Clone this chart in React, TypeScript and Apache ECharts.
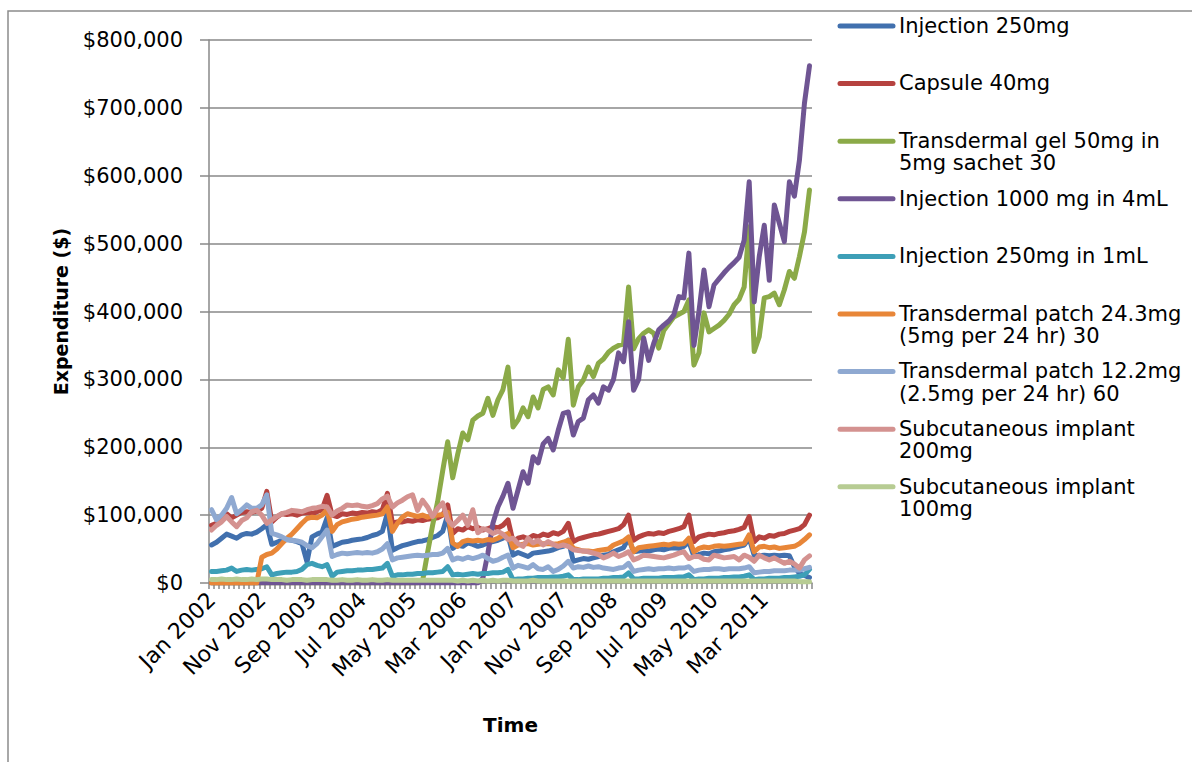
import React, { useEffect, useRef } from "react";
import * as echarts from "echarts";

// ---------- data (values in thousands of dollars) ----------
const UNIT = 1000;
const MONTHS = ["Jan", "Feb", "Mar", "Apr", "May", "Jun", "Jul", "Aug", "Sep", "Oct", "Nov", "Dec"];
const YEARS = [2002, 2003, 2004, 2005, 2006, 2007, 2008, 2009, 2010, 2011];
const categories: string[] = YEARS.flatMap((y) => MONTHS.map((m) => `${m} ${y}`));

const Y_TICKS = [0, 100000, 200000, 300000, 400000, 500000, 600000, 700000, 800000];

const SERIES_NAMES = [
  "Injection 250mg",
  "Capsule 40mg",
  "Transdermal gel 50mg in 5mg sachet 30",
  "Injection 1000 mg in 4mL",
  "Injection 250mg in 1mL",
  "Transdermal patch 24.3mg (5mg per 24 hr) 30",
  "Transdermal patch 12.2mg (2.5mg per 24 hr) 60",
  "Subcutaneous implant 200mg",
  "Subcutaneous implant 100mg",
];

const LEGEND_LABELS = [
  "Injection 250mg",
  "Capsule 40mg",
  "Transdermal gel 50mg in\n5mg sachet 30",
  "Injection 1000 mg in 4mL",
  "Injection 250mg in 1mL",
  "Transdermal patch 24.3mg\n(5mg per 24 hr) 30",
  "Transdermal patch 12.2mg\n(2.5mg per 24 hr) 60",
  "Subcutaneous implant\n200mg",
  "Subcutaneous implant\n100mg",
];

const COLORS = ["#4170AE", "#B6423F", "#8BAA48", "#6F5593", "#3D9FB7", "#E88638", "#8FA9D1", "#D49290", "#B7CC93"];

const injection250 = [
  56, 60, 66, 72, 69, 66, 71, 73, 72, 75, 80, 86,
  57, 60, 63, 64, 63, 61, 58, 31, 68, 72, 75, 96,
  54, 57, 60, 61, 63, 64, 65, 67, 70, 72, 76, 103,
  48, 52, 55, 57, 59, 61, 62, 64, 67, 70, 76, 100,
  51, 56, 54, 59, 57, 54, 56, 59, 61, 63, 66, 71,
  41, 45, 42, 39, 44, 45, 46, 47, 49, 52, 54, 63,
  32, 34, 36, 35, 37, 39, 41, 42, 46, 49, 52, 66,
  46, 47, 48, 47, 49, 50, 49, 51, 52, 51, 54, 61,
  39, 42, 44, 43, 46, 47, 49, 50, 52, 54, 56, 66,
  41, 40, 41, 40, 41, 40, 41, 40, 24, 14, 11, 8,
];

const capsule40 = [
  85, 88, 95, 102, 96, 100, 104, 105, 104, 106, 110, 135,
  90, 97, 102, 101, 102, 100, 103, 104, 102, 105, 108, 129,
  100, 98, 102, 101, 103, 102, 104, 103, 105, 104, 108, 132,
  88, 90, 90, 92, 91, 93, 92, 94, 95, 96, 100, 115,
  73, 80, 78, 83, 80, 82, 78, 80, 83, 81, 85, 93,
  61, 66, 68, 65, 70, 68, 72, 70, 74, 72, 76, 88,
  61, 65, 67, 69, 71, 72, 74, 76, 78, 80, 86, 100,
  63, 68, 71, 73, 72, 74, 73, 76, 78, 80, 83, 100,
  61, 68, 70, 72, 71, 73, 74, 76, 77, 79, 82, 98,
  61, 68, 66, 70, 69, 72, 73, 76, 78, 80, 86, 100,
];

const gel50 = [
  0, 0, 0, 0, 0, 0, 0, 0, 0, 0, 0, 0,
  0, 0, 0, 0, 0, 0, 0, 0, 0, 0, 0, 0,
  0, 0, 0, 0, 0, 0, 0, 0, 0, 0, 0, 0,
  0, 0, 0, 0, 0, 0, 3, 45, 85, 120, 165, 208,
  155, 190, 221, 211, 240, 246, 250, 272, 247, 270, 285, 318,
  230, 240, 258, 245, 274, 258, 285, 289, 277, 314, 302, 359,
  262, 289, 299, 318, 304, 324, 330, 340, 346, 350, 352, 436,
  345, 360, 368, 373, 368, 346, 372, 382, 392, 396, 400, 417,
  321, 339, 398, 370, 375, 380, 387, 396, 410, 418, 436, 525,
  341, 363, 420, 422, 427, 410, 432, 459, 449, 481, 517, 579,
];

const injection1000 = [
  0, 0, 0, 0, 0, 0, 0, 0, 0, 0, 0, 0,
  0, 0, 0, 0, 0, 0, 0, 0, 0, 0, 0, 0,
  0, 0, 0, 0, 0, 0, 0, 0, 0, 0, 0, 0,
  0, 0, 0, 0, 0, 0, 0, 0, 0, 0, 0, 0,
  0, 0, 0, 0, 0, 0, 7, 44, 88, 112, 128, 147,
  110, 137, 164, 147, 186, 177, 205, 213, 196, 225, 250, 252,
  218, 238, 243, 270, 277, 265, 289, 284, 300, 339, 326, 385,
  284, 300, 361, 328, 353, 373, 380, 386, 395, 422, 420, 486,
  350, 400, 461, 407, 439, 448, 457, 465, 472, 480, 505, 591,
  414, 481, 527, 446, 557, 530, 503, 591, 570, 623, 707, 762,
];

const injection250in1 = [
  17, 17, 18, 19, 22, 17, 19, 20, 19, 20, 21, 24,
  12, 14, 15, 16, 16, 17, 20, 27, 29, 26, 24, 27,
  10, 16, 17, 18, 18, 19, 19, 20, 20, 21, 22, 29,
  10, 12, 12, 13, 13, 14, 14, 15, 15, 16, 17, 24,
  12, 13, 12, 13, 14, 13, 14, 14, 15, 15, 16, 20,
  5, 6, 6, 7, 7, 8, 8, 8, 9, 9, 10, 12,
  5, 5, 6, 6, 6, 6, 7, 7, 8, 8, 9, 15,
  6, 6, 7, 7, 7, 7, 8, 8, 8, 9, 9, 12,
  5, 6, 6, 7, 7, 7, 8, 8, 9, 9, 10, 12,
  5, 6, 6, 7, 7, 7, 8, 8, 9, 10, 12, 20,
];

const patch243 = [
  0, 0, 0, 0, 0, 0, 0, 0, 0, 0, 38, 42,
  44, 50, 58, 66, 72, 80, 88, 95, 97, 96, 100, 108,
  76, 86, 90, 92, 94, 95, 97, 98, 99, 100, 102, 112,
  76, 88, 97, 102, 100, 98, 100, 97, 99, 100, 101, 104,
  59, 54, 61, 63, 62, 63, 62, 64, 63, 66, 70, 73,
  52, 56, 57, 58, 56, 57, 58, 58, 57, 58, 60, 63,
  51, 49, 47, 47, 46, 48, 49, 50, 56, 59, 62, 68,
  46, 52, 53, 54, 55, 56, 57, 56, 58, 57, 58, 66,
  46, 51, 53, 52, 54, 55, 54, 55, 56, 57, 58, 71,
  46, 53, 54, 52, 53, 51, 52, 53, 54, 58, 64, 71,
];

const patch122 = [
  108, 93, 100, 110, 126, 102, 108, 115, 110, 110, 115, 130,
  73, 71, 68, 64, 63, 62, 60, 55, 52, 58, 68, 78,
  39, 42, 44, 43, 44, 45, 44, 45, 44, 46, 50, 58,
  34, 37, 38, 39, 40, 41, 40, 41, 42, 42, 44, 51,
  34, 37, 35, 38, 36, 38, 41, 36, 32, 34, 38, 41,
  22, 26, 24, 22, 27, 21, 20, 24, 17, 20, 25, 32,
  22, 24, 23, 25, 23, 24, 22, 21, 20, 22, 23, 29,
  17, 19, 20, 21, 20, 21, 21, 22, 21, 22, 22, 24,
  17, 19, 20, 20, 21, 21, 20, 21, 21, 21, 22, 24,
  15, 16, 17, 17, 18, 18, 18, 19, 19, 19, 21, 23,
];

const implant200 = [
  78, 85, 90, 98, 90, 83, 92, 96, 105, 107, 100, 88,
  93, 98, 102, 104, 107, 106, 105, 108, 110, 111, 113, 112,
  100, 106, 110, 115, 114, 115, 113, 112, 114, 117, 124, 128,
  112, 118, 122, 127, 130, 107, 122, 112, 98, 110, 118, 93,
  85, 92, 100, 85, 108, 74, 80, 78, 73, 76, 72, 64,
  66, 58, 54, 66, 59, 63, 56, 61, 57, 54, 56, 54,
  49, 48, 47, 46, 44, 42, 37, 40, 44, 39, 42, 46,
  34, 37, 41, 40, 39, 38, 37, 39, 41, 44, 46, 36,
  39, 39, 35, 34, 41, 39, 37, 38, 39, 34, 41, 38,
  32, 41, 37, 34, 37, 33, 29, 32, 28, 22, 34, 40,
];

const implant100 = [
  5, 5, 6, 5, 5, 6, 5, 5, 6, 5, 6, 6,
  5, 5, 5, 4, 5, 5, 5, 4, 5, 5, 5, 5,
  4, 4, 5, 4, 4, 5, 4, 4, 5, 4, 4, 5,
  4, 4, 4, 4, 4, 4, 4, 4, 4, 4, 4, 4,
  4, 3, 4, 3, 4, 3, 4, 3, 4, 3, 4, 4,
  3, 3, 3, 3, 4, 3, 3, 3, 3, 3, 3, 3,
  3, 3, 3, 3, 3, 3, 3, 3, 3, 3, 3, 3,
  3, 3, 3, 3, 3, 3, 3, 3, 3, 3, 3, 3,
  3, 3, 3, 3, 3, 3, 3, 3, 3, 3, 3, 3,
  3, 3, 3, 3, 3, 3, 3, 3, 3, 2, 2, 2,
];

const SERIES_VALUES = [
  injection250,
  capsule40,
  gel50,
  injection1000,
  injection250in1,
  patch243,
  patch122,
  implant200,
  implant100,
];

const GRID = "#898989";
const FONT = "DejaVu Sans";

export default function App() {
  const ref = useRef<HTMLDivElement>(null);

  useEffect(() => {
    document.body.style.margin = "0";
    if (!ref.current) return;
    const chart = echarts.init(ref.current, undefined, { renderer: "svg" });

    const legendGraphics: any[] = [];
    LEGEND_LABELS.forEach((label, i) => {
      const cy = 26 + i * 57.6;
      legendGraphics.push({
        type: "line",
        shape: { x1: 840, y1: cy, x2: 893, y2: cy },
        style: { stroke: COLORS[i], lineWidth: 5, lineCap: "round" },
      });
      legendGraphics.push({
        type: "text",
        x: 899,
        y: cy - 11.5,
        style: {
          text: label,
          fontSize: 21,
          fontFamily: FONT,
          fill: "#000",
          lineHeight: 22.5,
          verticalAlign: "top",
          align: "left",
        },
      });
    });

    chart.setOption({
      animation: false,
      textStyle: { fontFamily: FONT },
      grid: { left: 209, right: 380, top: 40, bottom: 179 },
      graphic: [
        {
          type: "rect",
          shape: { x: 8, y: 11, width: 1300, height: 900 },
          style: { fill: "none", stroke: "#8c8c8c", lineWidth: 1.5 },
          silent: true,
        },
        ...legendGraphics,
      ],
      xAxis: {
        type: "category",
        data: categories,
        boundaryGap: true,
        name: "Time",
        nameLocation: "middle",
        nameGap: 132,
        nameTextStyle: { fontSize: 20, fontWeight: "bold", color: "#000", fontFamily: FONT },
        axisLine: { show: true, lineStyle: { color: GRID, width: 1.5 } },
        axisTick: { show: true, interval: 0, length: 6, lineStyle: { color: GRID, width: 1.5 } },
        axisLabel: {
          interval: 9,
          rotate: 45,
          fontSize: 22,
          color: "#000",
          fontFamily: FONT,
          margin: 13,
        },
        splitLine: { show: false },
      },
      yAxis: {
        type: "value",
        min: Y_TICKS[0],
        max: Y_TICKS[Y_TICKS.length - 1],
        interval: Y_TICKS[1] - Y_TICKS[0],
        name: "Expenditure ($)",
        nameLocation: "middle",
        nameRotate: 90,
        nameGap: 139,
        nameTextStyle: { fontSize: 19, fontWeight: "bold", color: "#000", fontFamily: FONT },
        axisLine: { show: true, lineStyle: { color: GRID, width: 1.5 } },
        axisTick: { show: true, length: 9, lineStyle: { color: GRID, width: 1.5 } },
        axisLabel: {
          fontSize: 21,
          color: "#000",
          fontFamily: FONT,
          margin: 26,
          formatter: (v: number) => "$" + v.toLocaleString("en-US"),
        },
        splitLine: { show: true, lineStyle: { color: GRID, width: 1.5 } },
      },
      series: SERIES_NAMES.map((name, i) => ({
        name,
        type: "line",
        data: SERIES_VALUES[i].map((v) => v * UNIT),
        showSymbol: false,
        symbol: "none",
        smooth: false,
        lineStyle: { color: COLORS[i], width: 5, cap: "round", join: "round" },
        itemStyle: { color: COLORS[i] },
        z: 2 + i,
      })),
    });

    return () => chart.dispose();
  }, []);

  return (
    <div
      ref={ref}
      style={{ position: "fixed", left: 0, top: 0, width: 1192, height: 762, background: "#fff" }}
    />
  );
}
